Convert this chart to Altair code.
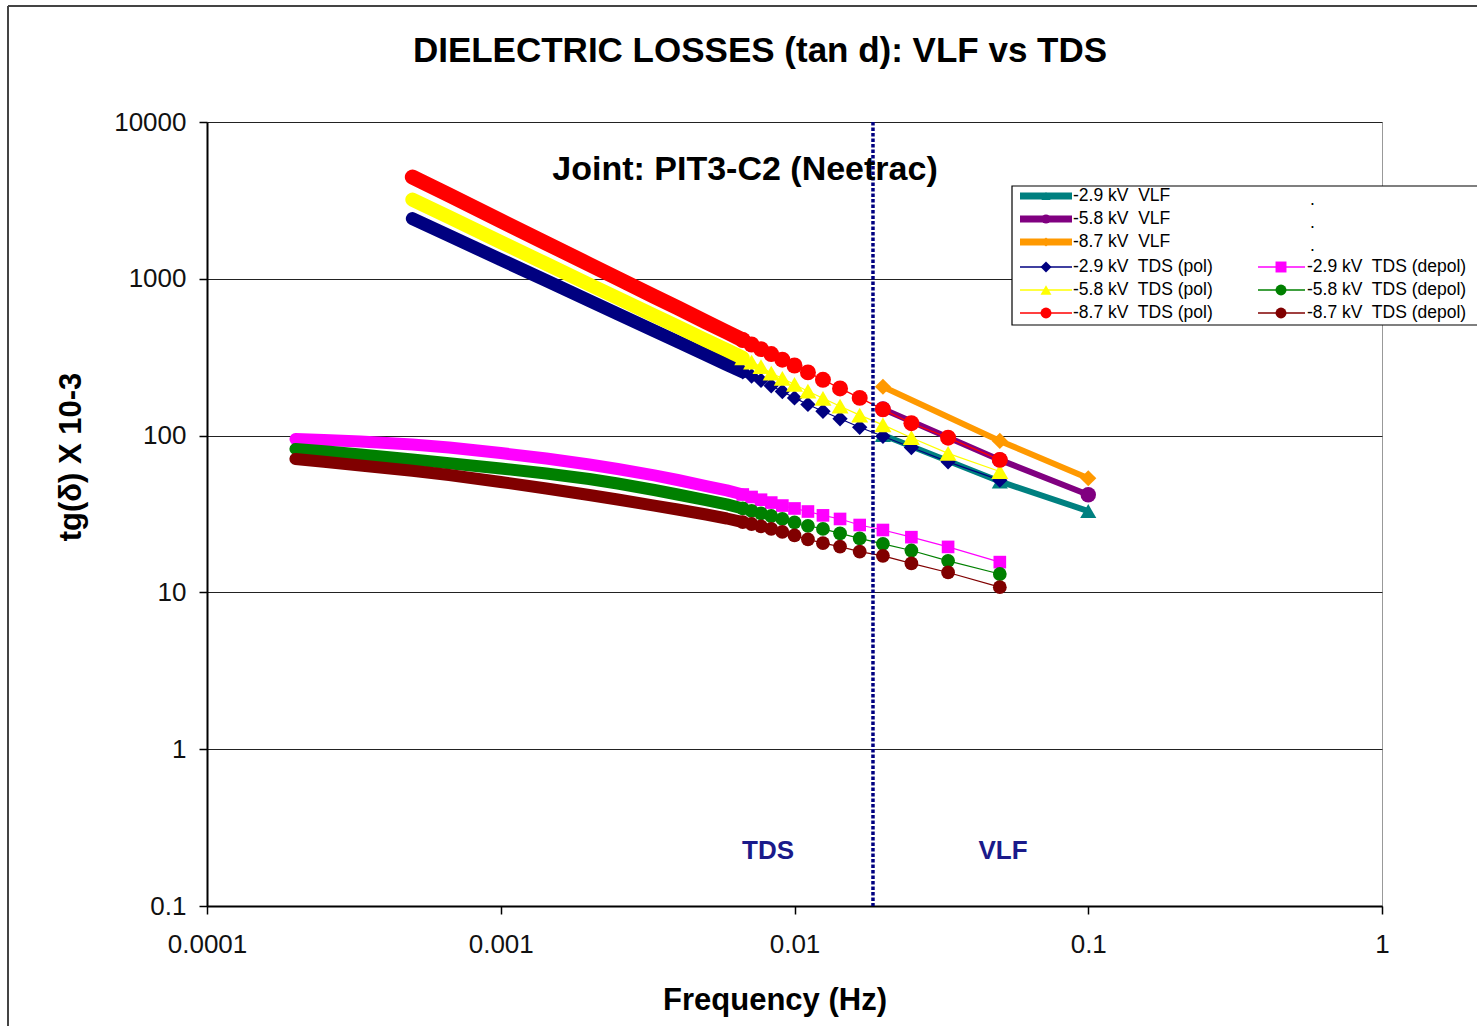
import altair as alt
import pandas as pd

# ---------------- data ----------------
vlf_freq = [0.02, 0.05, 0.1]
vlf_29 = [101, 51, 33]
vlf_58 = [148, 70, 42]
vlf_87 = [205, 92.5, 53.5]

pol_freq = [0.0005, 0.000667, 0.001, 0.001429, 0.002, 0.0025, 0.003333, 0.004,
            0.005, 0.005882, 0.006667, 0.007143, 0.007692, 0.008333, 0.009091,
            0.01, 0.01111, 0.0125, 0.01429, 0.01667, 0.02, 0.025, 0.03333, 0.05]
pol_29 = [2420, 1886, 1325, 973, 726, 598, 466, 398, 327, 284, 255, 240, 225,
          208, 191, 174, 158, 143, 128, 113, 99, 84, 68, 52]
pol_58 = [3200, 2473, 1714, 1245, 920, 754, 582, 495, 405, 351, 313, 294, 275,
          250, 232, 212, 192, 173, 154, 135, 117, 97, 77, 59]
pol_87 = [4460, 3420, 2344, 1687, 1236, 1006, 771, 653, 531, 457, 407, 381, 356,
          331, 305, 280, 253, 227, 200, 174, 147, 120, 97, 70]

depol_freq = [0.0002, 0.00025, 0.000333, 0.0005, 0.000667, 0.001, 0.001429, 0.002,
              0.0025, 0.003333, 0.004, 0.005, 0.005882, 0.006667, 0.007143,
              0.007692, 0.008333, 0.009091, 0.01, 0.01111, 0.0125, 0.01429,
              0.01667, 0.02, 0.025, 0.03333, 0.05]
depol_29 = [95, 93.7, 91.7, 87.8, 84.0, 77.4, 71.4, 65.4, 61.2, 55.7, 52.1, 47.7,
            44.7, 42.1, 40.6, 39.0, 37.4, 35.8, 34.3, 32.8, 31.0, 29.4, 26.9,
            25.0, 22.5, 19.5, 15.6]
depol_58 = [82.2, 79.5, 75.8, 70.5, 66.6, 61.7, 57.3, 52.9, 49.5, 45.0, 42.1, 38.8,
            36.4, 34.3, 33.1, 31.9, 30.7, 29.4, 28.0, 26.6, 25.4, 23.8, 22.1,
            20.4, 18.5, 15.9, 13.1]
depol_87 = [71, 68.1, 64.4, 59.7, 56.1, 50.6, 46.0, 41.8, 39.1, 35.8, 33.8, 31.4,
            29.6, 28.1, 27.3, 26.4, 25.4, 24.3, 23.1, 21.8, 20.6, 19.6, 18.2,
            17.1, 15.3, 13.4, 10.8]

boundary_freq = 0.0185
x_ticks = [0.0001, 0.001, 0.01, 0.1, 1]
y_ticks = [0.1, 1, 10, 100, 1000, 10000]

FONT = "Liberation Sans"
W, H = 1175, 784

X = alt.X("f:Q", title=None,
          scale=alt.Scale(type="log", domain=[0.0001, 1]),
          axis=alt.Axis(values=x_ticks, format="~g", labelFont=FONT, labelFontSize=26,
                        labelColor="#111", labelPadding=17, tickSize=8, tickColor="black",
                        tickWidth=1.5, domainColor="black", domainWidth=2, grid=False,
                        labelFlush=False, labelOverlap=False))
Y = alt.Y("v:Q", title=None,
          scale=alt.Scale(type="log", domain=[0.1, 10000]),
          axis=alt.Axis(values=y_ticks, format="~g", labelFont=FONT, labelFontSize=26,
                        labelColor="#111", labelPadding=13, tickSize=8, tickColor="black",
                        tickWidth=1.5, domainColor="black", domainWidth=2, grid=True,
                        gridColor="#222", gridWidth=1.2, labelFlush=False,
                        labelOverlap=False))

BAND_MAX = 0.0067


def series_layers(freqs, vals, color, shape, msize, band_w=0, line_w=1.2):
    df = pd.DataFrame({"f": freqs, "v": vals})
    out = []
    if band_w:
        out.append(alt.Chart(df[df.f <= BAND_MAX]).mark_line(
            color=color, strokeWidth=band_w, strokeCap="round", strokeJoin="round"
        ).encode(x=X, y=Y))
    out.append(alt.Chart(df).mark_line(color=color, strokeWidth=line_w).encode(x=X, y=Y))
    pts = df[df.f >= 0.0066] if band_w else df
    out.append(alt.Chart(pts).mark_point(shape=shape, size=msize, filled=True,
                                         color=color, opacity=1).encode(x=X, y=Y))
    return out


vlf_series = [("-2.9 kV  VLF", vlf_29, "#008080", "triangle-up", 260),
              ("-5.8 kV  VLF", vlf_58, "#800080", "circle", 240),
              ("-8.7 kV  VLF", vlf_87, "#FF9900", "diamond", 260)]
pol_series = [("-2.9 kV  TDS (pol)", pol_29, "#000080", "diamond", 235),
              ("-5.8 kV  TDS (pol)", pol_58, "#FFFF00", "triangle-up", 290),
              ("-8.7 kV  TDS (pol)", pol_87, "#FF0000", "circle", 255)]
depol_series = [("-2.9 kV  TDS (depol)", depol_29, "#FF00FF", "square", 160),
                ("-5.8 kV  TDS (depol)", depol_58, "#008000", "circle", 190),
                ("-8.7 kV  TDS (depol)", depol_87, "#800000", "circle", 190)]

layers = []
for name, vals, col, shp, sz in vlf_series:
    layers += series_layers(vlf_freq, vals, col, shp, sz, band_w=0, line_w=6)
pol_bands = {"#000080": 13, "#FFFF00": 14, "#FF0000": 15}
for name, vals, col, shp, sz in pol_series:
    layers += series_layers(pol_freq, vals, col, shp, sz, band_w=pol_bands[col])
for name, vals, col, shp, sz in depol_series:
    layers += series_layers(depol_freq, vals, col, shp, sz, band_w=12)

one = pd.DataFrame({"a": [0]})

# boundary line between TDS and VLF regions
layers.append(alt.Chart(one).mark_rule(color="#000080", strokeWidth=3.5, strokeDash=[3.5, 2])
              .encode(x=alt.datum(boundary_freq), y=alt.value(0), y2=alt.value(H)))


def text_layer(txt, x, y, size, weight="normal", color="black", align="center", angle=0):
    kw = dict(font=FONT, fontSize=size, fontWeight=weight, color=color,
              align=align, baseline="middle")
    if angle:
        kw["angle"] = angle
    return alt.Chart(pd.DataFrame({"t": [txt]})).mark_text(**kw).encode(
        text="t:N", x=alt.value(x), y=alt.value(y))


layers.append(text_layer("TDS", 561, 729, 26, "bold", "#1A1A8A"))
layers.append(text_layer("VLF", 796, 729, 26, "bold", "#1A1A8A"))
layers.append(text_layer("Joint: PIT3-C2 (Neetrac)", 538, 48, 34, "bold"))

# chart title and axis titles
layers.append(text_layer("DIELECTRIC LOSSES (tan d): VLF vs TDS", 553, -71, 35, "bold"))
layers.append(text_layer("Frequency (Hz)", 568, 879, 31, "bold"))
layers.append(text_layer("tg(δ) X 10-3", -135, 335, 31, "bold", angle=270))

# outer frame
layers.append(alt.Chart(one).mark_rule(color="#444", strokeWidth=2).encode(
    x=alt.value(-199), y=alt.value(-116), y2=alt.value(H + 130)))
layers.append(alt.Chart(one).mark_rule(color="#444", strokeWidth=2).encode(
    x=alt.value(-199), x2=alt.value(W + 120), y=alt.value(-116)))

# legend box
layers.append(alt.Chart(one).mark_rect(fill="white", stroke="black", strokeWidth=1.2).encode(
    x=alt.value(805), x2=alt.value(1300), y=alt.value(64), y2=alt.value(203)))

row_y = [74, 97, 120, 145, 168, 191]
col_line = [(813, 865, 839, 866), (1051, 1098, 1074, 1100)]


def legend_entry(name, col, shp, col_idx, row_idx, lw, msize):
    x0, x1, xm, xt = col_line[col_idx]
    y = row_y[row_idx]
    out = [alt.Chart(one).mark_rule(color=col, strokeWidth=lw).encode(
               x=alt.value(x0), x2=alt.value(x1), y=alt.value(y)),
           alt.Chart(one).mark_point(shape=shp, size=msize, filled=True, color=col,
                                     opacity=1).encode(x=alt.value(xm), y=alt.value(y)),
           text_layer(name.replace("  ", "\u00a0 "), xt, y, 17.5, align="left")]
    return out


for i, (name, vals, col, shp, sz) in enumerate(vlf_series):
    layers += legend_entry(name, col, shp, 0, i, 7, 85)
    layers.append(text_layer(".", 1103, row_y[i] + 4, 17.5, align="left"))
for i, (name, vals, col, shp, sz) in enumerate(pol_series):
    layers += legend_entry(name, col, shp, 0, i + 3, 1.5, 120)
for i, (name, vals, col, shp, sz) in enumerate(depol_series):
    layers += legend_entry(name, col, shp, 1, i + 3, 1.5, 120)

chart = alt.layer(*layers).properties(
    width=W, height=H,
    padding={"left": 207, "top": 122, "right": 95, "bottom": 120},
    autosize=alt.AutoSizeParams(type="none"),
    background="white",
).configure_view(stroke="#999", strokeWidth=1)

chart.save("out.html", embed_options={"renderer": "svg", "actions": False})
